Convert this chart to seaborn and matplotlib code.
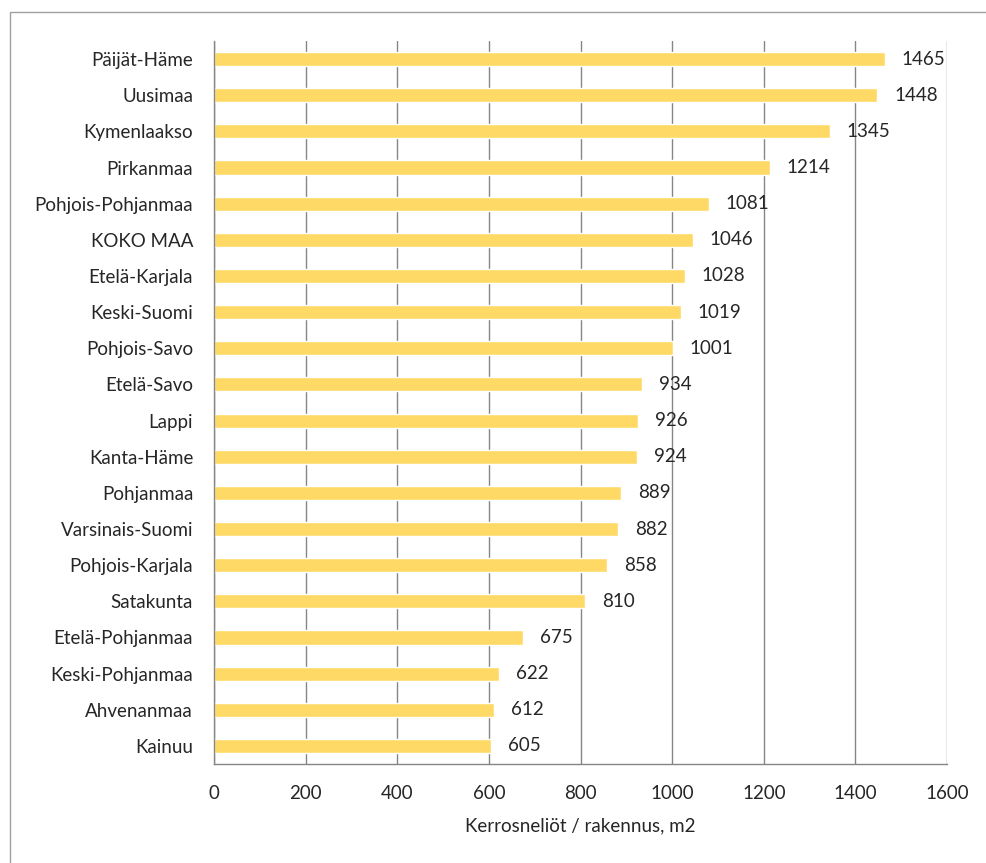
import matplotlib
matplotlib.use("Agg")
import matplotlib.pyplot as plt
import seaborn as sns
import pandas as pd
import numpy as np
from matplotlib.patches import Rectangle

regions = ["Päijät-Häme", "Uusimaa", "Kymenlaakso", "Pirkanmaa", "Pohjois-Pohjanmaa",
           "KOKO MAA", "Etelä-Karjala", "Keski-Suomi", "Pohjois-Savo", "Etelä-Savo",
           "Lappi", "Kanta-Häme", "Pohjanmaa", "Varsinais-Suomi", "Pohjois-Karjala",
           "Satakunta", "Etelä-Pohjanmaa", "Keski-Pohjanmaa", "Ahvenanmaa", "Kainuu"]
values = [1465, 1448, 1345, 1214, 1081, 1046, 1028, 1019, 1001, 934,
          926, 924, 889, 882, 858, 810, 675, 622, 612, 605]
x_ticks = [0, 200, 400, 600, 800, 1000, 1200, 1400, 1600]
x_label = "Kerrosneliöt / rakennus, m2"

df = pd.DataFrame({"region": regions, "value": values})

sns.set_style("white")
plt.rcParams['font.family'] = ['Lato', 'DejaVu Sans']
FS = 13.5

fig = plt.figure(figsize=(9.86, 8.63), dpi=100)
ax = fig.add_axes([214/986, 1-764/863, (947-214)/986, (764-41)/863])

sns.barplot(data=df, y="region", x="value", orient="h", color="#FFD966",
            width=0.39, saturation=1, ax=ax)

grid_c = "#868686"
ax.set_xlim(0, 1600)
ax.set_ylim(len(regions)-0.5, -0.5)
ax.set_xticks(x_ticks)
ax.set_xticklabels([str(t) for t in x_ticks], fontsize=FS)
ax.xaxis.grid(True, color=grid_c, linewidth=1)
ax.set_axisbelow(True)
ax.yaxis.grid(False)
for s in ["top", "right"]:
    ax.spines[s].set_visible(False)
for s in ["left", "bottom"]:
    ax.spines[s].set_color(grid_c)
    ax.spines[s].set_linewidth(1)

ax.set_yticks(range(len(regions)))
ax.set_yticklabels(regions, fontsize=FS)
ax.set_yticks(np.arange(-0.5, len(regions), 1), minor=True)
ax.tick_params(axis="y", which="major", length=0, pad=15)
ax.tick_params(axis="y", which="minor", length=5, color=grid_c, width=1)
ax.tick_params(axis="x", which="major", length=5, color=grid_c, width=1, pad=10)
ax.set_ylabel("")
ax.set_xlabel(x_label, fontsize=FS, labelpad=11)

for i, v in enumerate(values):
    ax.annotate(str(v), xy=(v, i), xytext=(12, 0), textcoords="offset points",
                ha="left", va="center", fontsize=FS)

fig.patches.append(Rectangle((10/986, -0.1), 1.2, 1 - 12/863 + 0.1, transform=fig.transFigure,
                             fill=False, edgecolor="#A0A0A0", linewidth=1))

fig.savefig("out.png", dpi=100)
